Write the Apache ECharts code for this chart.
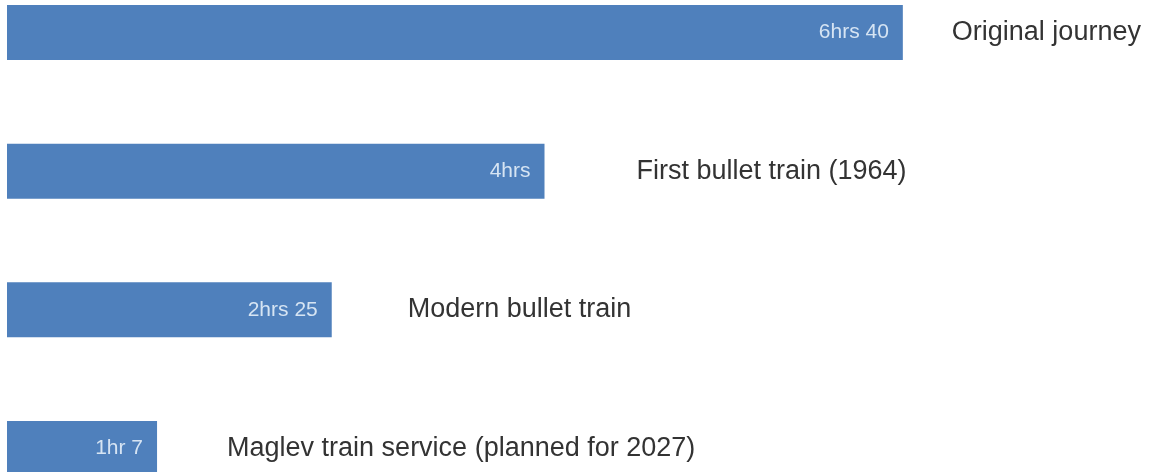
<!DOCTYPE html>
<html>
<head>
<meta charset="utf-8">
<script src="https://cdn.jsdelivr.net/npm/echarts@6/dist/echarts.min.js"></script>
<style>
html,body{margin:0;padding:0;background:#fff;}
#chart{width:1149px;height:472px;}
</style>
</head>
<body>
<div id="chart"></div>
<script>
// Data
const categories = ['Original journey', 'First bullet train (1964)', 'Modern bullet train', 'Maglev train service (planned for 2027)'];
const minutes = [400, 240, 145, 67];
const durationLabels = ['6hrs 40', '4hrs', '2hrs 25', '1hr 7'];

// Layout (gap between bar end and category text, px)
const nameGaps = [49, 92, 76, 70];

const chart = echarts.init(document.getElementById('chart'));
const font = '"Liberation Sans", Arial, Helvetica, sans-serif';

chart.setOption({
  animation: false,
  backgroundColor: '#ffffff',
  grid: { left: 7, right: 67, top: 32.5, bottom: 23.5, containLabel: false },
  xAxis: { type: 'value', min: 0, max: 480, show: false },
  yAxis: { type: 'category', data: categories, inverse: true, boundaryGap: false, show: false },
  series: [
    {
      type: 'bar',
      barWidth: 55,
      barGap: '-100%',
      clip: false,
      itemStyle: { color: '#4f80bc' },
      label: {
        show: true,
        position: 'insideRight',
        distance: 14,
        color: '#d6e4f3',
        fontFamily: font,
        fontSize: 21,
        formatter: p => durationLabels[p.dataIndex]
      },
      data: minutes
    },
    {
      type: 'bar',
      barWidth: 55,
      barGap: '-100%',
      clip: false,
      silent: true,
      itemStyle: { color: 'rgba(0,0,0,0)' },
      data: minutes.map((v, i) => ({
        value: v,
        label: {
          show: true,
          position: 'right',
          distance: nameGaps[i],
          color: '#333333',
          fontFamily: font,
          fontSize: 27,
          formatter: () => categories[i]
        }
      }))
    }
  ]
});
</script>
</body>
</html>
